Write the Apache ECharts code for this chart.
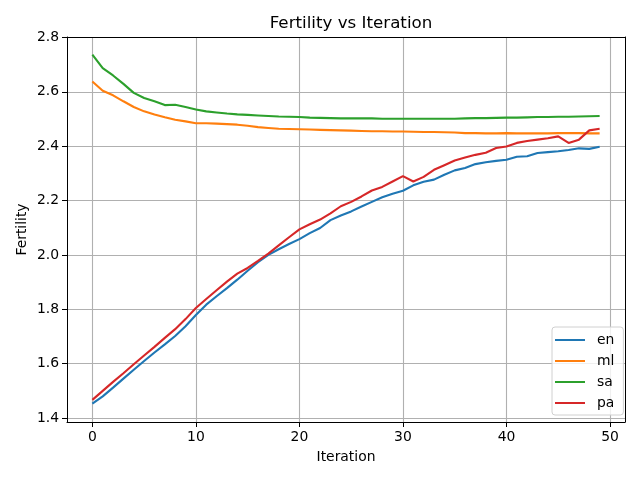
<!DOCTYPE html>
<html>
<head>
<meta charset="utf-8">
<script src="https://cdn.jsdelivr.net/npm/echarts@6/dist/echarts.min.js"></script>
<style>html,body{margin:0;padding:0;background:#fff;}#c{width:640px;height:480px;}</style>
</head>
<body>
<div id="c"></div>
<script>
const iterations = Array.from({length: 50}, (_, i) => i);
const en = [1.453,1.480,1.512,1.545,1.578,1.610,1.641,1.671,1.702,1.738,
            1.779,1.817,1.848,1.878,1.909,1.942,1.973,2.000,2.021,2.040,
            2.058,2.080,2.099,2.128,2.145,2.160,2.178,2.195,2.212,2.225,
            2.236,2.256,2.269,2.277,2.295,2.311,2.320,2.334,2.341,2.346,
            2.350,2.361,2.363,2.375,2.378,2.381,2.386,2.392,2.390,2.398];
const ml = [2.638,2.604,2.587,2.565,2.544,2.528,2.516,2.506,2.497,2.491,
            2.484,2.484,2.483,2.481,2.479,2.475,2.470,2.467,2.464,2.463,
            2.462,2.461,2.460,2.459,2.458,2.457,2.456,2.455,2.455,2.454,
            2.454,2.453,2.452,2.452,2.451,2.450,2.448,2.448,2.447,2.447,
            2.448,2.447,2.447,2.447,2.447,2.448,2.448,2.448,2.447,2.447];
const sa = [2.737,2.687,2.660,2.629,2.596,2.577,2.565,2.551,2.552,2.544,
            2.535,2.528,2.524,2.520,2.517,2.515,2.513,2.511,2.509,2.508,
            2.507,2.505,2.504,2.503,2.502,2.502,2.502,2.502,2.501,2.501,
            2.501,2.501,2.501,2.501,2.501,2.501,2.502,2.503,2.503,2.504,
            2.505,2.505,2.506,2.507,2.507,2.508,2.508,2.509,2.510,2.511];
const pa = [1.467,1.500,1.533,1.565,1.598,1.630,1.662,1.695,1.727,1.764,
            1.805,1.838,1.870,1.902,1.931,1.952,1.978,2.005,2.035,2.065,
            2.094,2.113,2.130,2.153,2.179,2.195,2.215,2.237,2.250,2.270,
            2.290,2.270,2.287,2.313,2.330,2.347,2.358,2.368,2.376,2.393,
            2.399,2.412,2.419,2.424,2.429,2.436,2.412,2.424,2.458,2.464];
const xTicks = [0, 10, 20, 30, 40, 50];
const yTicks = [1.4, 1.6, 1.8, 2.0, 2.2, 2.4, 2.6, 2.8];
const seriesNames = ['en', 'ml', 'sa', 'pa'];
const seriesData = [en, ml, sa, pa];
const colors = ['#1f77b4', '#ff7f0e', '#2ca02c', '#d62728'];

const font = 'DejaVu Sans';
const spine = {show: true, onZero: false, lineStyle: {color: '#000', width: 1}};
const chart = echarts.init(document.getElementById('c'), null, {renderer: 'canvas'});
chart.setOption({
  animation: false,
  backgroundColor: '#fff',
  color: colors,
  title: {
    text: 'Fertility vs Iteration',
    left: 346, top: 10, textAlign: 'center',
    textStyle: {fontFamily: font, fontSize: 16.7, fontWeight: 'normal', color: '#000'}
  },
  grid: {left: 67, right: 15, top: 37, bottom: 58, show: false},
  legend: {
    orient: 'vertical', left: 552, top: 327,
    data: seriesNames.map(n => ({name: n, icon: 'rect'})),
    itemWidth: 30, itemHeight: 2, itemGap: 7,
    padding: [6, 9, 5, 3],
    backgroundColor: 'rgba(255,255,255,0.8)', borderColor: '#d0d0d0', borderWidth: 1, borderRadius: 3,
    textStyle: {fontFamily: font, fontSize: 13.9, color: '#000', padding: [0, 0, 0, 7]}
  },
  xAxis: [{
    type: 'value', min: -2.45, max: 51.45, position: 'bottom',
    name: 'Iteration', nameLocation: 'middle', nameGap: 28, nameMoveOverlap: false,
    nameTextStyle: {fontFamily: font, fontSize: 13.9, color: '#000'},
    axisLine: spine,
    axisTick: {show: true, length: 5, lineStyle: {color: '#000', width: 1}, customValues: xTicks},
    axisLabel: {fontFamily: font, fontSize: 13.9, color: '#000', margin: 8, customValues: xTicks},
    splitLine: {show: true, lineStyle: {color: '#b0b0b0', width: 1.1}}
  }, {
    type: 'value', min: -2.45, max: 51.45, position: 'top',
    axisLine: spine, axisTick: {show: false}, axisLabel: {show: false}, splitLine: {show: false}
  }],
  yAxis: [{
    type: 'value', min: 1.3856, max: 2.8014, position: 'left',
    name: 'Fertility', nameLocation: 'middle', nameGap: 38, nameRotate: 90, nameMoveOverlap: false,
    nameTextStyle: {fontFamily: font, fontSize: 13.9, color: '#000'},
    axisLine: spine,
    axisTick: {show: true, length: 5, lineStyle: {color: '#000', width: 1}, customValues: yTicks},
    axisLabel: {fontFamily: font, fontSize: 13.9, color: '#000', margin: 8, customValues: yTicks,
                formatter: v => v.toFixed(1)},
    splitLine: {show: true, lineStyle: {color: '#b0b0b0', width: 1.1}}
  }, {
    type: 'value', min: 1.3856, max: 2.8014, position: 'right',
    axisLine: spine, axisTick: {show: false}, axisLabel: {show: false}, splitLine: {show: false}
  }],
  series: seriesNames.map((n, k) => ({
    name: n, type: 'line', showSymbol: false, symbol: 'none',
    xAxisIndex: 0, yAxisIndex: 0,
    data: iterations.map(i => [i, seriesData[k][i]]),
    lineStyle: {width: 2.1, color: colors[k]},
    itemStyle: {color: colors[k]},
    z: 3 + k
  }))
});
</script>
</body>
</html>
